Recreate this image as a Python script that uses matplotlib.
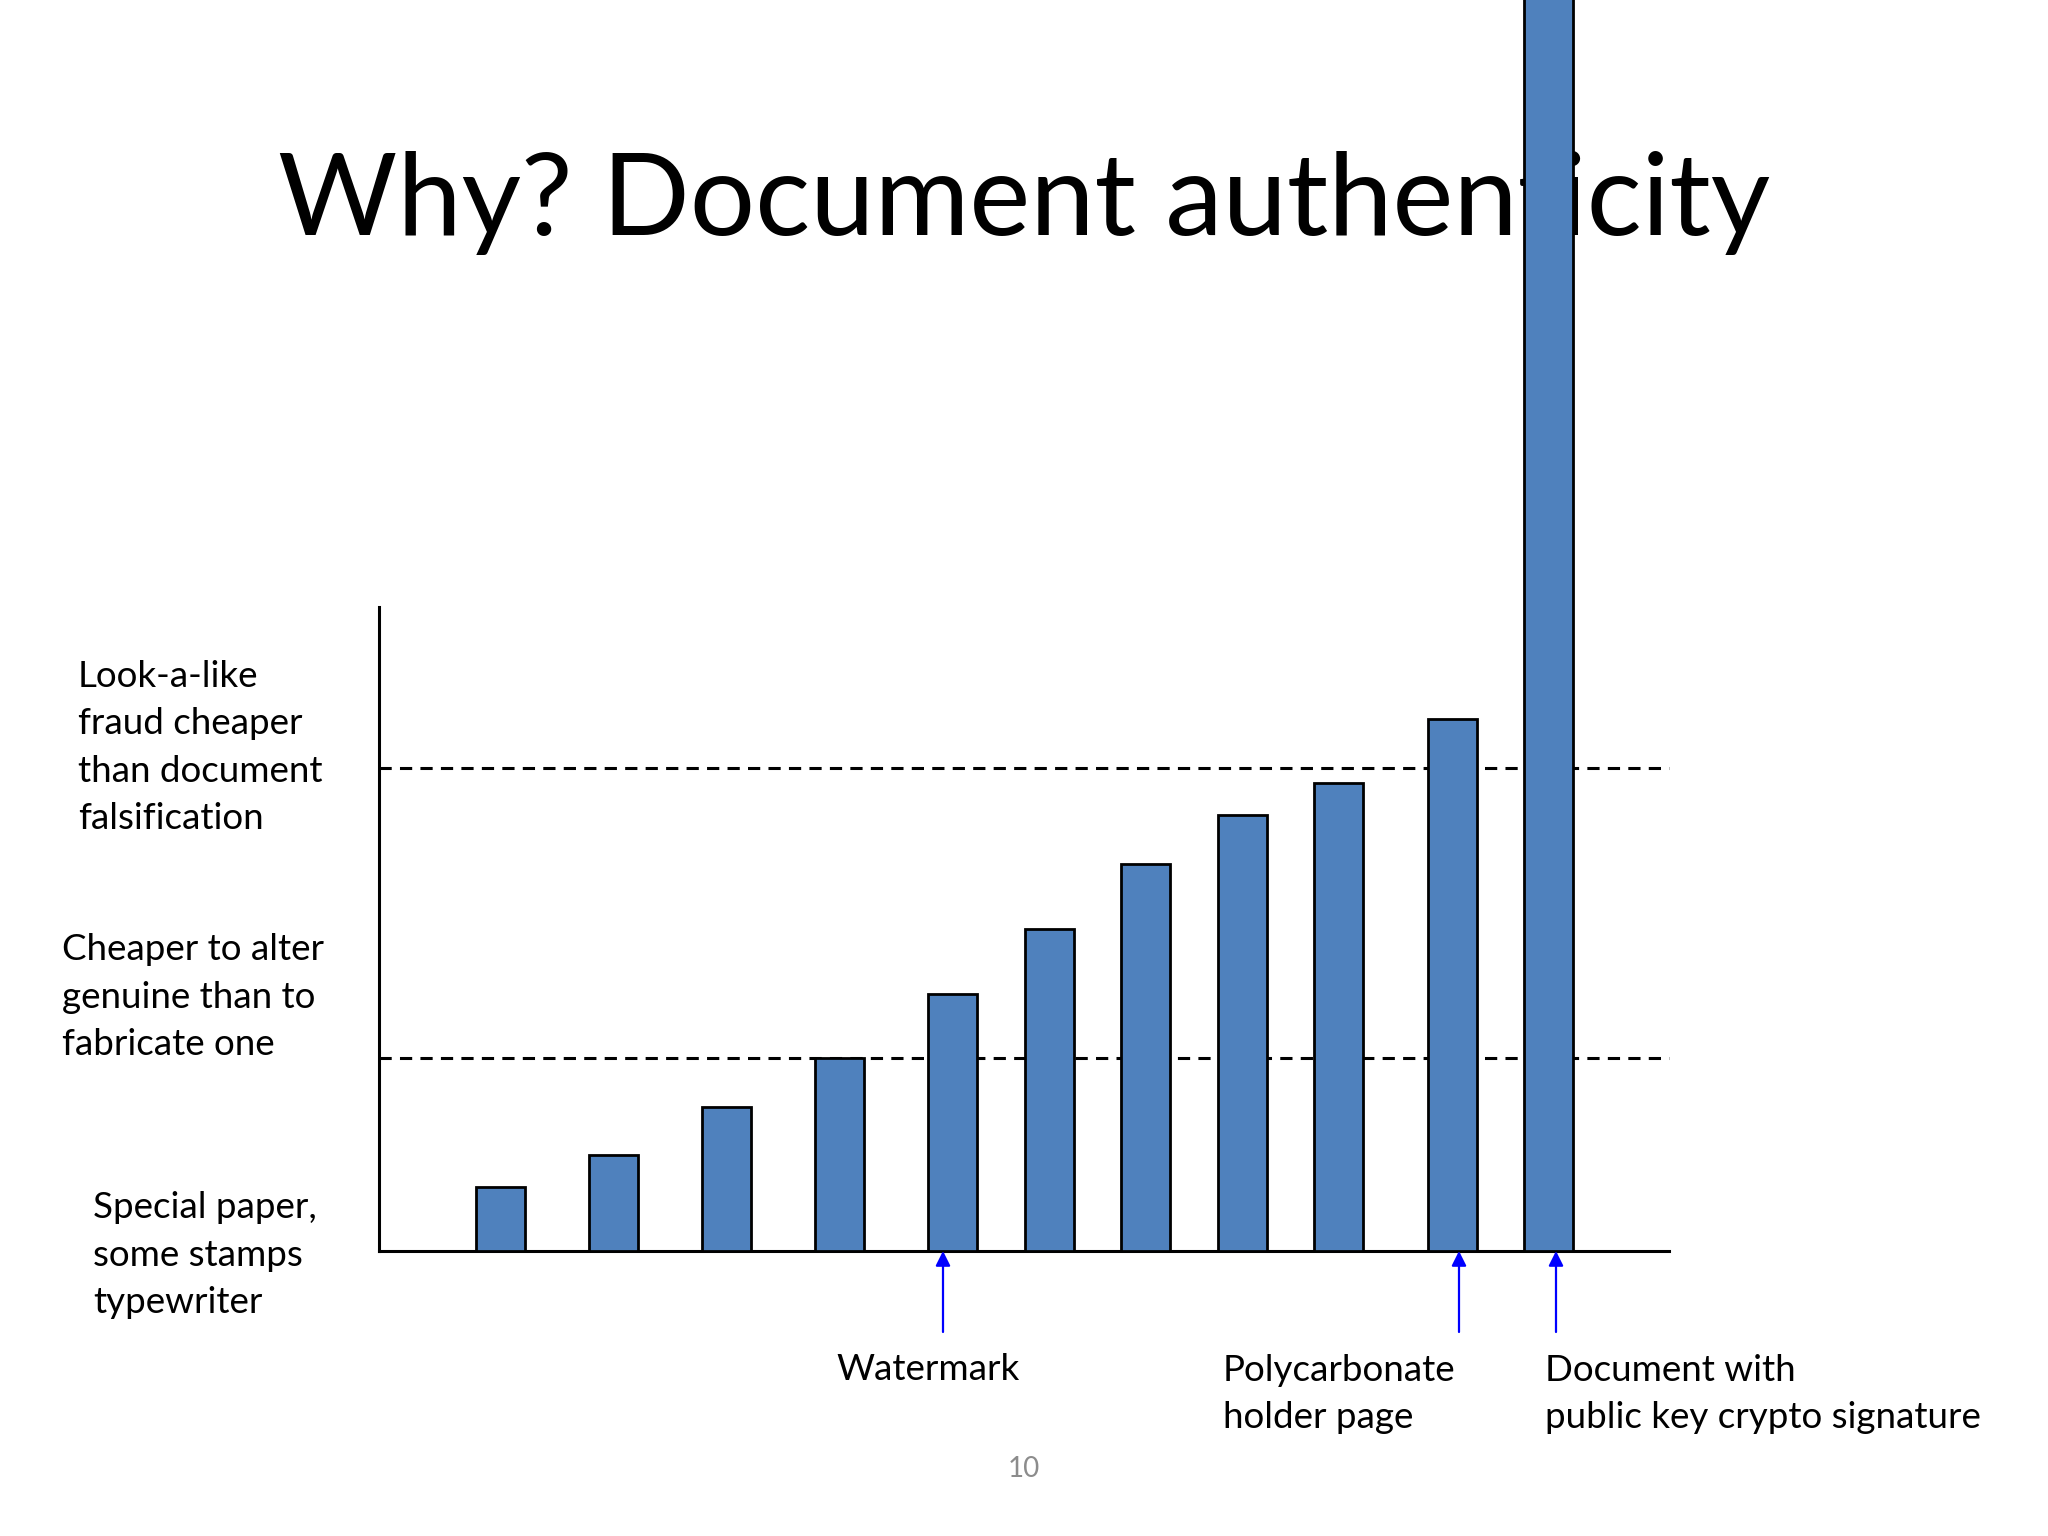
import matplotlib
matplotlib.use("Agg")
import matplotlib.pyplot as plt

# bar positions / heights in slide pixels (x from the y-axis, y from the baseline)
bar_x = [121, 234, 347, 460, 573, 670, 766, 863, 959, 1073, 1169]
bar_h = [64, 96, 144, 193, 257, 322, 387, 436, 468, 532, 1300]
levels = [193, 483]
arrow_x = [564, 1080, 1177]

left_labels = ["Look-a-like\nfraud cheaper\nthan document\nfalsification",
               "Cheaper to alter\ngenuine than to\nfabricate one",
               "Special paper,\nsome stamps\ntypewriter"]
bottom_labels = ["Watermark", "Polycarbonate\nholder page",
                 "Document with\npublic key crypto signature"]

W, H = 2048, 1536
plt.rcParams['font.family'] = ['Lato', 'DejaVu Sans']

fig = plt.figure(figsize=(W / 100, H / 100), dpi=100)
fig.patch.set_facecolor('white')

# axes: origin at the slide's axis corner
x0, y0 = 379, 1251
ax = fig.add_axes([x0 / W, (H - y0) / H, 1 - x0 / W, y0 / H])
ax.set_facecolor('none')
ax.set_xlim(0, W - x0)
ax.set_ylim(0, y0)

ax.bar(bar_x, bar_h, width=49, color='#4F81BD', edgecolor='black', linewidth=2, zorder=3)
ax.hlines(levels, 0, 1290, colors='black', linewidth=2.2, linestyles=(0, (4, 2.7)), zorder=2)

for x in arrow_x:
    ax.annotate('', xy=(x, 0), xytext=(x, -81),
                arrowprops=dict(arrowstyle='-|>', color='#0000FF', lw=1.6,
                                mutation_scale=22, shrinkA=0, shrinkB=0),
                annotation_clip=False)

for s in ['top', 'right']:
    ax.spines[s].set_visible(False)
ax.spines['left'].set_bounds(0, 644)
ax.spines['bottom'].set_bounds(0, 1290)
ax.spines['left'].set_linewidth(2.2)
ax.spines['bottom'].set_linewidth(2.2)
ax.set_xticks([])
ax.set_yticks([])

# title sits behind the tall bar
fig.text(0.5, 1 - 235 / H, "Why? Document authenticity", ha='center', va='baseline',
         fontsize=83, color='black', zorder=-1)

def px(x, y):
    return x / W, 1 - y / H

# y given for the last line's baseline
lab_kw = dict(fontsize=26.5, va='baseline', ha='left', linespacing=1.53)
fig.text(*px(78, 829), left_labels[0], **lab_kw)
fig.text(*px(62, 1055), left_labels[1], **lab_kw)
fig.text(*px(93, 1313), left_labels[2], **lab_kw)
fig.text(*px(836, 1380), bottom_labels[0], **lab_kw)
fig.text(*px(1223, 1428), bottom_labels[1], **lab_kw)
fig.text(*px(1545, 1428), bottom_labels[2], **lab_kw)

fig.text(*px(1024, 1477), "10", fontsize=20, color='#8C8C8C', ha='center', va='baseline')

fig.savefig('out.png', dpi=100)
